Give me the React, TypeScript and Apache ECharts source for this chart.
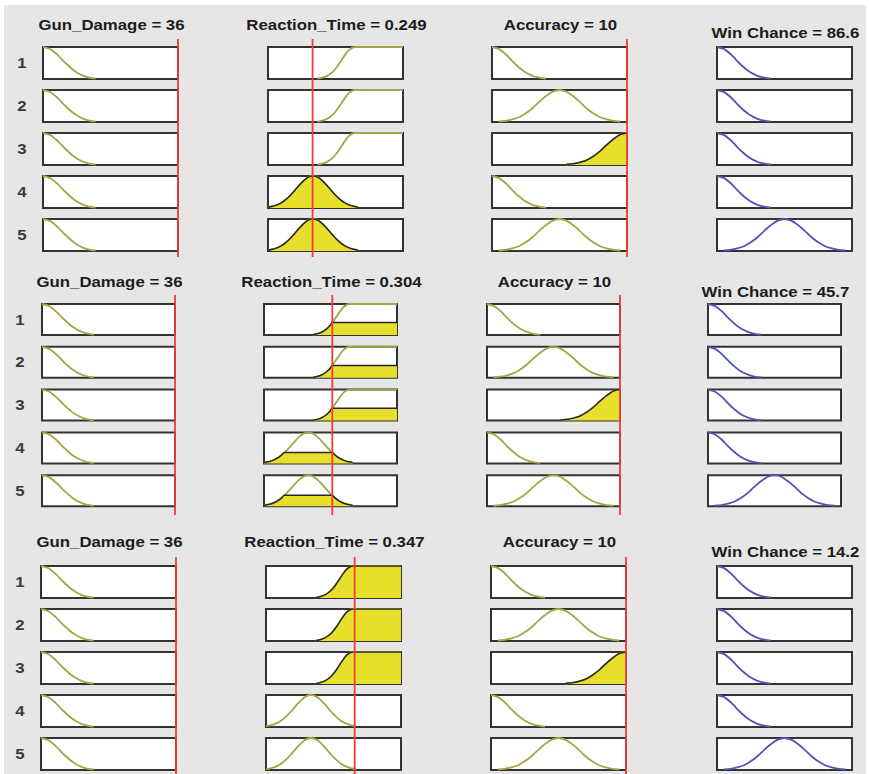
import React, { useEffect, useRef } from "react";
import * as echarts from "echarts";

// ---------- data ----------
const VARIABLE_NAMES = ["Gun_Damage", "Reaction_Time", "Accuracy", "Win Chance"];
const VARIABLE_RANGES = [
  [0, 36],
  [0.15, 0.45],
  [0, 10],
  [0, 100],
];
const INPUT_VALUES = [
  [36, 0.249, 10],
  [36, 0.304, 10],
  [36, 0.347, 10],
];
const OUTPUT_VALUES = [86.6, 45.7, 14.2];
const RULE_LABELS = ["1", "2", "3", "4", "5"];

// rule antecedents / consequent (term per variable)
const RULES = [
  ["low", "high", "low", "low"],
  ["low", "high", "medium", "low"],
  ["low", "high", "high", "low"],
  ["low", "medium", "low", "low"],
  ["low", "medium", "medium", "medium"],
];

// membership-function curves: [x, degree]
const GD_LOW = [[0, 1], [2, 0.93], [4, 0.74], [6, 0.5], [8, 0.29], [10, 0.14], [12, 0.05], [14, 0.01]];
const RT_HIGH = [[0.26, 0.01], [0.27, 0.04], [0.28, 0.09], [0.29, 0.18], [0.3, 0.32], [0.31, 0.52], [0.32, 0.73], [0.33, 0.91], [0.342, 1], [0.36, 1], [0.45, 1]];
const RT_MEDIUM = [[0.15, 0.026], [0.16, 0.052], [0.17, 0.097], [0.18, 0.167], [0.19, 0.27], [0.2, 0.4], [0.21, 0.557], [0.22, 0.72], [0.23, 0.864], [0.24, 0.964], [0.25, 1], [0.26, 0.964], [0.27, 0.864], [0.28, 0.72], [0.29, 0.557], [0.3, 0.4], [0.31, 0.27], [0.32, 0.167], [0.33, 0.097], [0.34, 0.052], [0.35, 0.026]];
const AC_LOW = [[0, 1], [0.5, 0.94], [1, 0.78], [1.5, 0.56], [2, 0.36], [2.5, 0.2], [3, 0.1], [3.5, 0.04], [4, 0.01]];
const AC_MEDIUM = [[0.5, 0.015], [1, 0.036], [1.5, 0.08], [2, 0.15], [2.5, 0.27], [3, 0.43], [3.5, 0.63], [4, 0.81], [4.5, 0.95], [5, 1], [5.5, 0.95], [6, 0.81], [6.5, 0.63], [7, 0.43], [7.5, 0.27], [8, 0.15], [8.5, 0.08], [9, 0.036], [9.5, 0.015]];
const AC_HIGH = [[5.5, 0.015], [6, 0.036], [6.5, 0.08], [7, 0.15], [7.5, 0.27], [8, 0.43], [8.5, 0.63], [9, 0.81], [9.5, 0.95], [10, 1]];
const WC_LOW = [[0, 1], [5, 0.94], [10, 0.78], [15, 0.56], [20, 0.36], [25, 0.2], [30, 0.1], [35, 0.04], [40, 0.01]];
const WC_MEDIUM = [[5, 0.015], [10, 0.036], [15, 0.08], [20, 0.15], [25, 0.27], [30, 0.43], [35, 0.63], [40, 0.81], [45, 0.95], [50, 1], [55, 0.95], [60, 0.81], [65, 0.63], [70, 0.43], [75, 0.27], [80, 0.15], [85, 0.08], [90, 0.036], [95, 0.015]];

// clipped (fired) areas at Reaction_Time = 0.304
const RT_HIGH_CUT = [[0.26, 0.01], [0.27, 0.04], [0.28, 0.09], [0.29, 0.18], [0.3, 0.32], [0.304, 0.4], [0.45, 0.4]];
const RT_MEDIUM_CUT = [[0.15, 0.026], [0.16, 0.052], [0.17, 0.097], [0.18, 0.167], [0.19, 0.27], [0.196, 0.35], [0.304, 0.35], [0.31, 0.27], [0.32, 0.167], [0.33, 0.097], [0.34, 0.052], [0.35, 0.026]];

const MF_BY_VARIABLE: Record<string, number[][]>[] = [
  { low: GD_LOW },
  { high: RT_HIGH, medium: RT_MEDIUM },
  { low: AC_LOW, medium: AC_MEDIUM, high: AC_HIGH },
  { low: WC_LOW, medium: WC_MEDIUM },
];

// [row, column, area] per panel
const PANEL_FILLS: [number, number, number[][]][][] = [
  [[3, 1, RT_MEDIUM], [4, 1, RT_MEDIUM], [2, 2, AC_HIGH]],
  [[0, 1, RT_HIGH_CUT], [1, 1, RT_HIGH_CUT], [2, 1, RT_HIGH_CUT], [3, 1, RT_MEDIUM_CUT], [4, 1, RT_MEDIUM_CUT], [2, 2, AC_HIGH]],
  [[0, 1, RT_HIGH], [1, 1, RT_HIGH], [2, 1, RT_HIGH], [2, 2, AC_HIGH]],
];

// ---------- layout ----------
const PANEL_LAYOUT = [
  { top: 47, pitch: 43, boxH: 32, titleY: 25, outTitleY: 33, redTop: 39, redBottom: 257, cols: [43, 268, 492, 717], boxW: 135, labelX: 22 },
  { top: 304, pitch: 42.8, boxH: 31, titleY: 282, outTitleY: 292, redTop: 295, redBottom: 515, cols: [42, 264, 487, 708], boxW: 133, labelX: 20 },
  { top: 566, pitch: 43, boxH: 32, titleY: 542, outTitleY: 552, redTop: 557, redBottom: 774, cols: [41, 266, 491, 717], boxW: 135, labelX: 20 },
];

const OLIVE = "#a5a545";
const BLUE = "#5252b8";
const YELLOW = "#e8df2c";
const RED = "#f03c3c";
const FONT = '"Liberation Sans", Arial, Helvetica, sans-serif';

function buildOption() {
  const grid: any[] = [];
  const xAxis: any[] = [];
  const yAxis: any[] = [];
  const series: any[] = [];
  const graphic: any[] = [
    { type: "rect", shape: { x: 0, y: 0, width: 869, height: 5 }, style: { fill: "#ffffff" }, silent: true },
    { type: "rect", shape: { x: 0, y: 0, width: 4, height: 774 }, style: { fill: "#ffffff" }, silent: true },
    { type: "rect", shape: { x: 866, y: 0, width: 3, height: 774 }, style: { fill: "#ffffff" }, silent: true },
  ];

  const addGrid = (g: any, range: number[]) => {
    const i = grid.length;
    grid.push(g);
    xAxis.push({ type: "value", gridIndex: i, min: range[0], max: range[1], show: false });
    yAxis.push({ type: "value", gridIndex: i, min: 0, max: 1, show: false });
    return i;
  };

  PANEL_LAYOUT.forEach((L, p) => {
    const idx: number[][] = [];
    for (let r = 0; r < RULES.length; r++) {
      idx.push([]);
      for (let c = 0; c < 4; c++) {
        const i = addGrid(
          {
            left: L.cols[c],
            top: L.top + r * L.pitch,
            width: L.boxW,
            height: L.boxH,
            show: true,
            backgroundColor: "#ffffff",
            borderColor: "#333333",
            borderWidth: 2,
          },
          VARIABLE_RANGES[c]
        );
        idx[r].push(i);
        series.push({
          type: "line",
          xAxisIndex: i,
          yAxisIndex: i,
          data: MF_BY_VARIABLE[c][RULES[r][c]],
          smooth: 0.3,
          symbol: "none",
          silent: true,
          lineStyle: { color: c === 3 ? BLUE : OLIVE, width: 1.8 },
          z: 3,
        });
      }
      graphic.push({
        type: "text",
        x: L.labelX,
        y: L.top + r * L.pitch + L.boxH / 2,
        scaleX: 1.12,
        style: {
          text: RULE_LABELS[r],
          fill: "#3a3a3a",
          fontSize: 15,
          fontWeight: "bold",
          fontFamily: FONT,
          align: "center",
          verticalAlign: "middle",
        },
      });
    }

    PANEL_FILLS[p].forEach(([r, c, data]) => {
      const i = idx[r][c];
      series.push({
        type: "line",
        xAxisIndex: i,
        yAxisIndex: i,
        data,
        smooth: 0.3,
        symbol: "none",
        silent: true,
        lineStyle: { color: "#262626", width: 1.5 },
        areaStyle: { color: YELLOW, opacity: 1 },
        z: 4,
      });
    });

    for (let c = 0; c < 3; c++) {
      const i = addGrid(
        { left: L.cols[c], top: L.redTop, width: L.boxW, height: L.redBottom - L.redTop, show: false },
        VARIABLE_RANGES[c]
      );
      const v = INPUT_VALUES[p][c];
      series.push({
        type: "line",
        xAxisIndex: i,
        yAxisIndex: i,
        data: [[v, 0], [v, 1]],
        symbol: "none",
        silent: true,
        clip: false,
        lineStyle: { color: RED, width: 1.8 },
        z: 5,
      });
    }

    for (let c = 0; c < 4; c++) {
      const text =
        c < 3
          ? `${VARIABLE_NAMES[c]} = ${INPUT_VALUES[p][c]}`
          : `${VARIABLE_NAMES[3]} = ${OUTPUT_VALUES[p]}`;
      graphic.push({
        type: "text",
        x: L.cols[c] + L.boxW / 2 + 1,
        y: c < 3 ? L.titleY : L.outTitleY,
        scaleX: 1.2,
        style: {
          text,
          fill: "#1c1c1c",
          fontSize: 14,
          fontWeight: "bold",
          fontFamily: FONT,
          align: "center",
          verticalAlign: "middle",
        },
      });
    }
  });

  return {
    animation: false,
    backgroundColor: "#e6e6e6",
    grid,
    xAxis,
    yAxis,
    series,
    graphic,
  };
}

export default function App() {
  const ref = useRef<HTMLDivElement>(null);
  useEffect(() => {
    if (!ref.current) return;
    const chart = echarts.init(ref.current, undefined, { renderer: "svg" });
    chart.setOption(buildOption() as any);
    return () => chart.dispose();
  }, []);
  return (
    <div
      ref={ref}
      style={{ position: "absolute", left: 0, top: 0, width: 869, height: 774 }}
    />
  );
}
